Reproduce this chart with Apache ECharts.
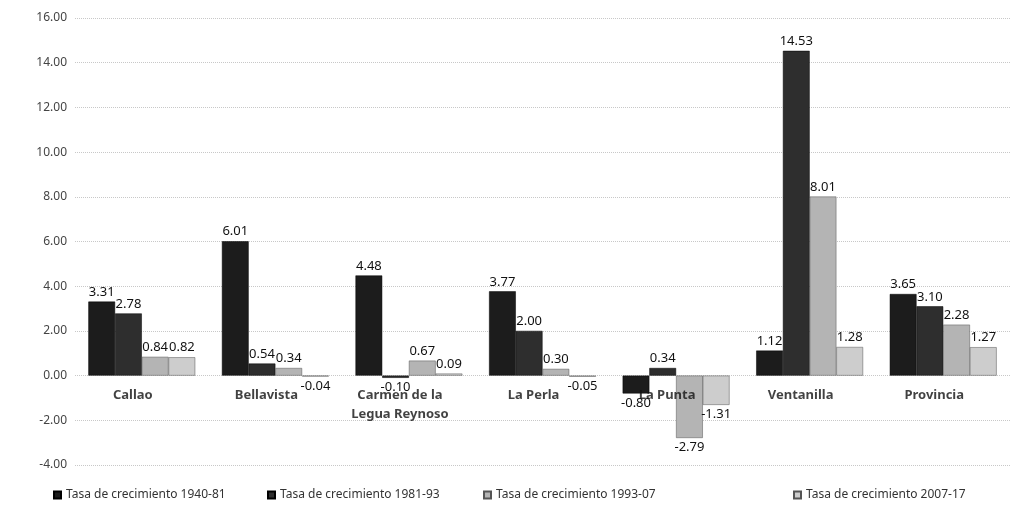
<!DOCTYPE html>
<html>
<head>
<meta charset="utf-8">
<script src="https://cdn.jsdelivr.net/npm/echarts@6/dist/echarts.min.js"></script>
<style>html,body{margin:0;padding:0;background:#fff}#c{width:1020px;height:523px}</style>
</head>
<body>
<div id="c"></div>
<script>
const categories = ['Callao', 'Bellavista', 'Carmen de la\nLegua Reynoso', 'La Perla', 'La Punta', 'Ventanilla', 'Provincia'];
const seriesNames = ['Tasa de crecimiento 1940-81', 'Tasa de crecimiento 1981-93', 'Tasa de crecimiento 1993-07', 'Tasa de crecimiento 2007-17'];
const tasa1940_81 = [3.31, 6.01, 4.48, 3.77, -0.80, 1.12, 3.65];
const tasa1981_93 = [2.78, 0.54, -0.10, 2.00, 0.34, 14.53, 3.10];
const tasa1993_07 = [0.84, 0.34, 0.67, 0.30, -2.79, 8.01, 2.28];
const tasa2007_17 = [0.82, -0.04, 0.09, -0.05, -1.31, 1.28, 1.27];
const yTicks = { min: -4, max: 16, interval: 2 };

const colors = ['#1c1c1c', '#2e2e2e', '#b4b4b4', '#cdcdcd'];
const allValues = [tasa1940_81, tasa1981_93, tasa1993_07, tasa2007_17];

const chart = echarts.init(document.getElementById('c'));
const font = "'Noto Sans', sans-serif";

const series = allValues.map((vals, i) => ({
  name: seriesNames[i],
  type: 'bar',
  barGap: '0%',
  barCategoryGap: '20%',
  itemStyle: { color: colors[i], borderColor: i < 2 ? '#000' : '#555', borderWidth: 0.5 },
  data: vals.map(v => ({
    value: v,
    label: { position: v < 0 ? 'bottom' : 'top' }
  })),
  label: {
    show: true,
    formatter: p => p.value.toFixed(2),
    color: '#111',
    fontSize: 13,
    fontFamily: font,
    distance: 3
  },
  z: 3
}));

// category names drawn at the zero line (as in the reference)
series.push({
  name: 'categoryLabels',
  type: 'scatter',
  symbolSize: 0,
  silent: true,
  data: categories.map(c => [c, 0]),
  label: {
    show: true,
    position: 'bottom',
    distance: 10,
    offset: [-9, 0],
    formatter: p => categories[p.dataIndex],
    color: '#111',
    fontSize: 13,
    fontWeight: 'bold',
    fontFamily: font,
    lineHeight: 19,
    align: 'center'
  },
  z: 4
});

const legendLefts = [48, 262, 478, 788];
const legends = seriesNames.map((n, i) => ({
  data: [n],
  left: legendLefts[i],
  top: 484,
  itemWidth: 7,
  itemHeight: 7,
  icon: 'rect',
  itemGap: 4,
  textStyle: { fontSize: 12, color: '#333', fontFamily: font }
}));

chart.setOption({
  animation: false,
  backgroundColor: '#fff',
  color: colors,
  grid: { left: 75, right: 10, top: 18, bottom: 58 },
  legend: legends,
  xAxis: {
    type: 'category',
    data: categories,
    axisLine: { show: false },
    axisTick: { show: false },
    axisLabel: { show: false }
  },
  yAxis: {
    type: 'value',
    min: yTicks.min,
    max: yTicks.max,
    interval: yTicks.interval,
    axisLine: { show: false },
    axisTick: { show: false },
    axisLabel: { color: '#444', fontSize: 12, fontFamily: font, formatter: v => v.toFixed(2), margin: 8 },
    splitLine: { lineStyle: { color: '#c8c8c8', type: 'dotted', width: 1 } }
  },
  series: series
});
</script>
</body>
</html>
